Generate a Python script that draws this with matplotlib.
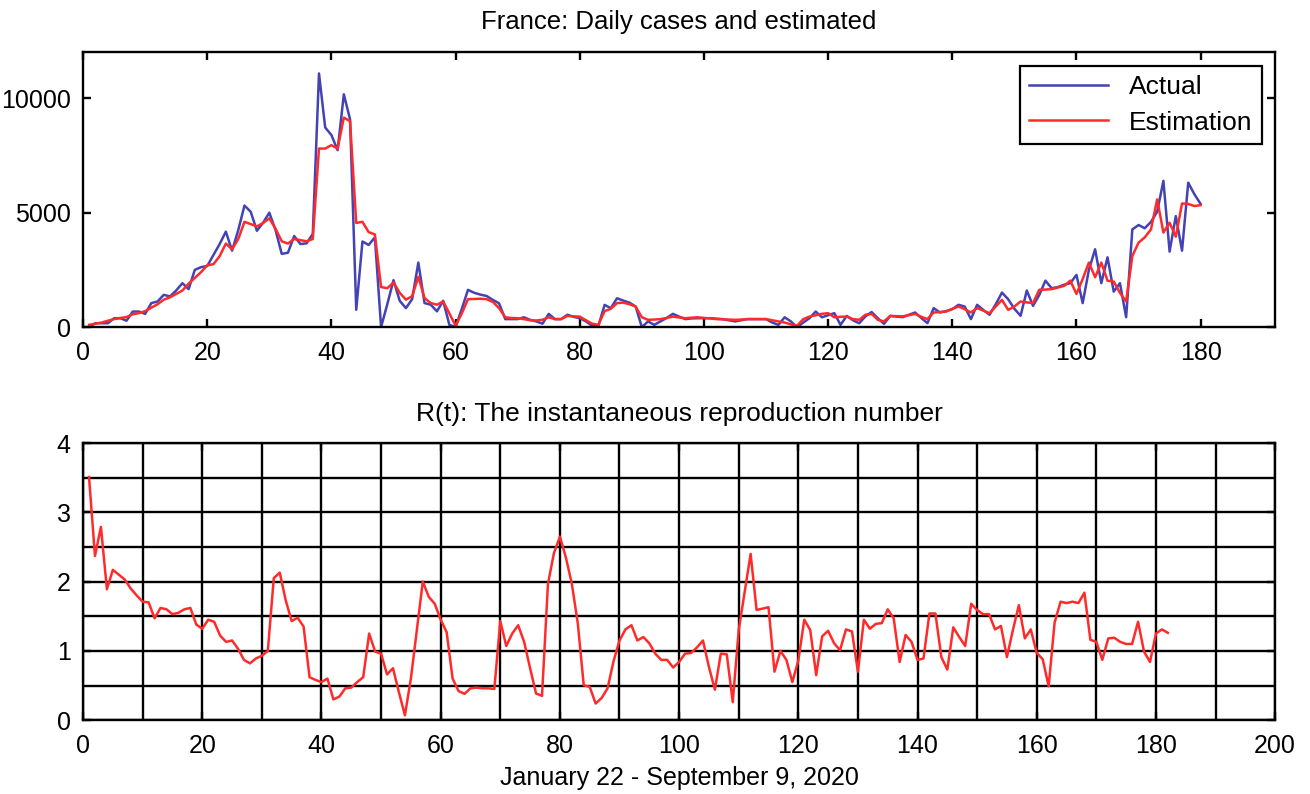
import matplotlib
matplotlib.use("Agg")
import matplotlib.pyplot as plt
import numpy as np
from matplotlib.ticker import MultipleLocator

# Daily cases (day 1..180)
days = np.arange(1, 181)
actual = [
    0, 170, 170, 170, 390, 390, 280, 680, 680, 580,
    1050, 1120, 1410, 1340, 1600, 1920, 1660, 2500, 2620, 2670,
    3150, 3630, 4170, 3340, 4240, 5310, 5040, 4210, 4560, 5000,
    4240, 3200, 3250, 3980, 3630, 3660, 4070, 11080, 8720, 8390,
    7730, 10170, 9080, 760, 3740, 3590, 3920, 0, 1000, 2050,
    1150, 830, 1220, 2820, 1050, 980, 690, 1150, 100, 0,
    800, 1630, 1500, 1420, 1360, 1190, 1040, 350, 350, 350,
    430, 320, 250, 150, 580, 350, 350, 540, 450, 390,
    250, 60, 60, 970, 830, 1260, 1160, 1070, 900, 0,
    250, 100, 250, 400, 580, 460, 350, 380, 390, 390,
    390, 370, 350, 300, 250, 300, 350, 350, 350, 350,
    200, 100, 430, 250, 0, 200, 390, 680, 430, 520,
    610, 100, 490, 300, 170, 465, 660, 390, 145, 490,
    460, 435, 540, 640, 400, 175, 830, 640, 700, 785,
    975, 900, 350, 975, 750, 540, 1000, 1510, 1220, 800,
    495, 1600, 930, 1400, 2030, 1700, 1750, 1850, 1920, 2280,
    1050, 2500, 3400, 1920, 3050, 1550, 1920, 435, 4270, 4460,
    4320, 4600, 5040, 6390, 3300, 4850, 3340, 6310, 5800, 5380,
]
estimated = [
    100, 150, 200, 280, 350, 400, 440, 560, 610, 700,
    850, 1000, 1200, 1300, 1450, 1600, 1900, 2150, 2400, 2700,
    2750, 3100, 3650, 3400, 3850, 4600, 4500, 4400, 4550, 4750,
    4300, 3750, 3650, 3850, 3800, 3750, 3850, 7800, 7800, 7950,
    7800, 9150, 9000, 4550, 4600, 4150, 4050, 1750, 1700, 1950,
    1500, 1200, 1350, 2200, 1270, 1050, 980, 1120, 600, 60,
    600, 1220, 1230, 1240, 1220, 1100, 830, 430, 400, 390,
    350, 300, 290, 320, 430, 350, 350, 490, 470, 460,
    300, 150, 100, 700, 800, 1050, 1070, 1000, 900, 430,
    320, 330, 350, 400, 460, 420, 390, 410, 430, 400,
    380, 350, 340, 330, 320, 330, 350, 350, 350, 350,
    300, 250, 200, 120, 60, 350, 460, 520, 580, 610,
    430, 450, 460, 350, 320, 540, 580, 320, 250, 490,
    480, 470, 520, 580, 450, 350, 640, 660, 680, 800,
    900, 785, 640, 830, 720, 610, 900, 1190, 755, 900,
    1120, 1080, 1050, 1630, 1640, 1660, 1730, 1800, 2030, 1450,
    2100, 2820, 2180, 2820, 2030, 1990, 1500, 1120, 3110, 3690,
    3920, 4270, 5580, 4130, 4560, 3950, 5400, 5380, 5290, 5330,
]

# Instantaneous reproduction number R(t), day 1..182
r_days = np.arange(1, 183)
r_t = [
    3.51, 2.37, 2.79, 1.89, 2.17, 2.10, 2.03, 1.90, 1.80, 1.71,
    1.70, 1.47, 1.62, 1.60, 1.53, 1.55, 1.60, 1.62, 1.38, 1.32,
    1.45, 1.42, 1.22, 1.13, 1.15, 1.03, 0.87, 0.82, 0.89, 0.93,
    1.00, 2.05, 2.13, 1.73, 1.43, 1.48, 1.35, 0.62, 0.58, 0.55,
    0.60, 0.30, 0.34, 0.46, 0.47, 0.55, 0.62, 1.25, 0.99, 0.96,
    0.66, 0.75, 0.40, 0.07, 0.60, 1.30, 2.00, 1.78, 1.68, 1.45,
    1.27, 0.60, 0.42, 0.38, 0.46, 0.47, 0.46, 0.46, 0.45, 1.43,
    1.07, 1.25, 1.37, 1.13, 0.75, 0.385, 0.35, 1.97, 2.41, 2.65,
    2.35, 1.97, 1.40, 0.505, 0.48, 0.24, 0.32, 0.46, 0.85, 1.15,
    1.31, 1.37, 1.15, 1.20, 1.11, 0.96, 0.87, 0.87, 0.76, 0.84,
    0.96, 0.97, 1.05, 1.15, 0.77, 0.44, 0.96, 0.95, 0.26, 1.30,
    1.85, 2.40, 1.59, 1.61, 1.63, 0.70, 1.00, 0.87, 0.55, 0.86,
    1.45, 1.30, 0.65, 1.21, 1.29, 1.11, 1.01, 1.31, 1.28, 0.70,
    1.45, 1.32, 1.39, 1.40, 1.60, 1.47, 0.84, 1.23, 1.13, 0.87,
    0.89, 1.54, 1.54, 0.91, 0.73, 1.34, 1.20, 1.07, 1.68, 1.59,
    1.53, 1.53, 1.31, 1.36, 0.91, 1.30, 1.66, 1.18, 1.31, 0.97,
    0.88, 0.49, 1.41, 1.71, 1.69, 1.71, 1.69, 1.84, 1.16, 1.13,
    0.87, 1.18, 1.19, 1.13, 1.10, 1.10, 1.42, 0.99, 0.84, 1.25,
    1.31, 1.26,
]

BLUE = "#4343b5"
RED = "#ff2b2b"

plt.rcParams["font.family"] = ["Liberation Sans", "DejaVu Sans"]
plt.rcParams["font.size"] = 17

fig = plt.figure(figsize=(13.1, 7.94), dpi=100)
ax1 = fig.add_axes([0.0634, 0.588, 0.910, 0.346])
ax2 = fig.add_axes([0.0634, 0.093, 0.910, 0.349])

# --- Top: daily cases vs estimation ---
ax1.plot(days, actual, color=BLUE, lw=1.8, label="Actual")
ax1.plot(days, estimated, color=RED, lw=1.8, label="Estimation")
ax1.set_xlim(0, 192)
ax1.set_ylim(0, 12000)
ax1.set_xticks(np.arange(0, 181, 20))
ax1.set_yticks([0, 5000, 10000])
ax1.set_title("France: Daily cases and estimated", fontsize=18.5, pad=17)
leg = ax1.legend(loc="upper right", fancybox=False, edgecolor="black",
                 handlelength=3.0, borderaxespad=0.5, framealpha=1,
                 fontsize=19, labelspacing=0.45, borderpad=0.35)
leg.get_frame().set_linewidth(1.6)

# --- Bottom: R(t) ---
ax2.plot(r_days, r_t, color=RED, lw=1.8)
ax2.set_xlim(0, 200)
ax2.set_ylim(0, 4)
ax2.set_xticks(np.arange(0, 201, 20))
ax2.set_yticks([0, 1, 2, 3, 4])
ax2.xaxis.set_minor_locator(MultipleLocator(10))
ax2.yaxis.set_minor_locator(MultipleLocator(0.5))
ax2.grid(True, which="both", color="black", lw=1.7)
ax2.set_axisbelow(True)
ax2.set_title("R(t): The instantaneous reproduction number", fontsize=19, pad=16)
ax2.set_xlabel("January 22 - September 9, 2020", fontsize=18, labelpad=6)

for ax in (ax1, ax2):
    for sp in ax.spines.values():
        sp.set_linewidth(1.7)
    ax.tick_params(direction="in", top=True, right=True, length=6, width=1.7,
                   labelsize=18)
    ax.tick_params(axis="x", pad=10)
    ax.tick_params(axis="y", pad=9)
    ax.tick_params(which="minor", length=0)

fig.savefig("out.png", dpi=100)
